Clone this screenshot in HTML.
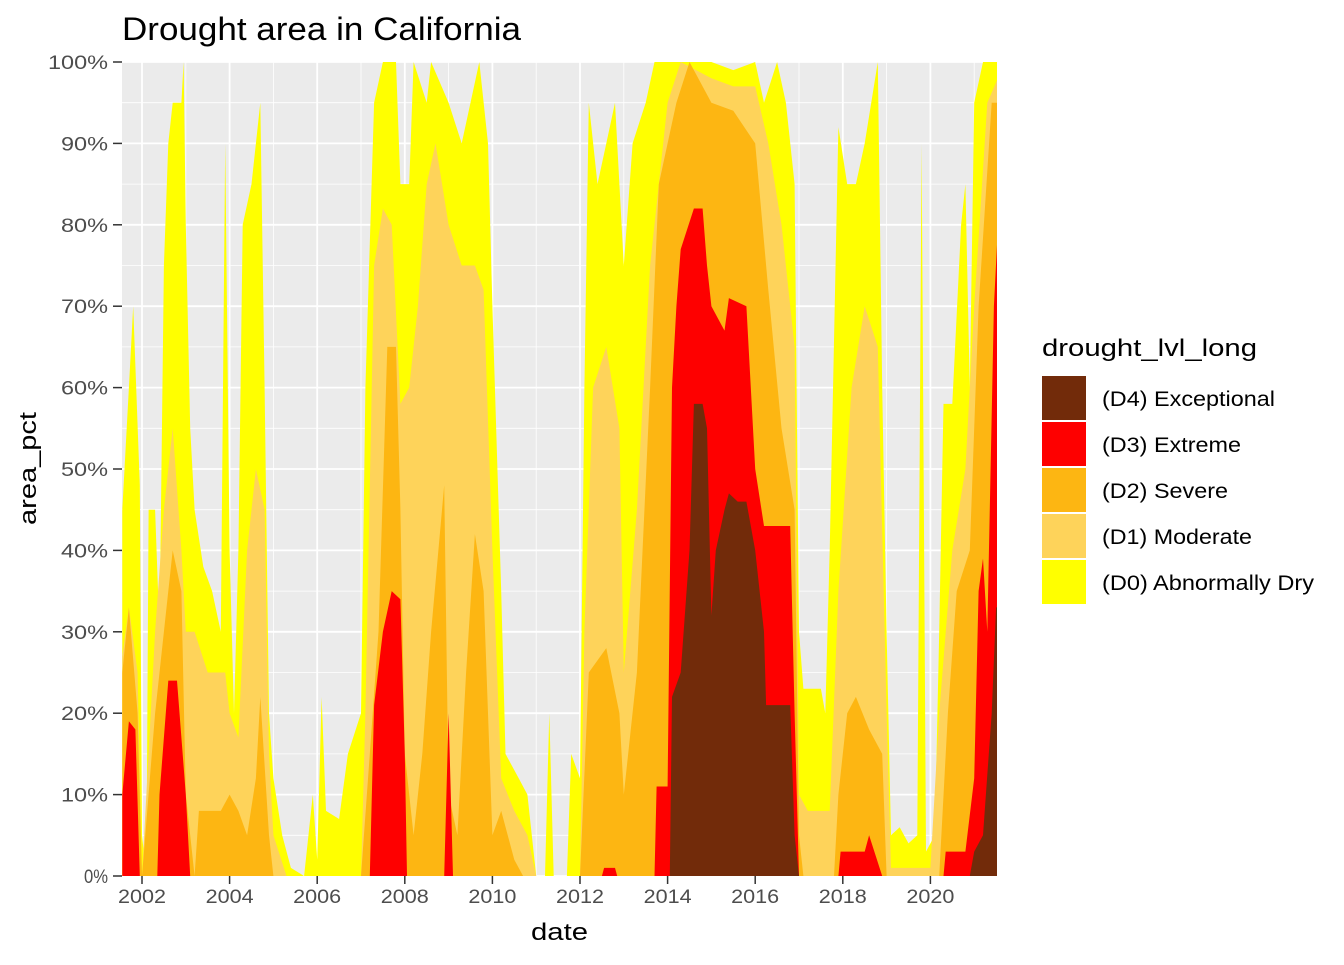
<!DOCTYPE html>
<html><head><meta charset="utf-8"><style>
body{margin:0;background:#fff;font-family:"Liberation Sans",Arial,sans-serif}
svg text{font-family:"Liberation Sans",Arial,sans-serif}
</style></head><body>
<svg id="s" width="1344" height="960" viewBox="0 0 1344 960" xmlns="http://www.w3.org/2000/svg">
<rect width="1344" height="960" fill="#fff"/>
<defs><clipPath id="cp"><rect x="122" y="62" width="875" height="814"/></clipPath></defs>
<rect x="122" y="62" width="875" height="814" fill="#EBEBEB"/>
<g id="grid"></g>
<g id="areas" clip-path="url(#cp)"></g>
<text x="122" y="40" font-size="32" fill="#000" textLength="399" lengthAdjust="spacingAndGlyphs">Drought area in California</text>
<g id="ylab" font-size="19" fill="#4D4D4D" text-anchor="end"></g>
<g id="xlab" font-size="19" fill="#4D4D4D" text-anchor="middle"></g>
<text x="531" y="940" font-size="24" textLength="57" lengthAdjust="spacingAndGlyphs">date</text>
<text transform="translate(36,525) rotate(-90)" font-size="24" textLength="113" lengthAdjust="spacingAndGlyphs">area_pct</text>
<text x="1042" y="356" font-size="24" textLength="215" lengthAdjust="spacingAndGlyphs">drought_lvl_long</text>
<g font-size="21">
<rect x="1042" y="376" width="44" height="44" fill="#722B0A"/><text x="1102" y="406" textLength="173" lengthAdjust="spacingAndGlyphs">(D4) Exceptional</text>
<rect x="1042" y="422" width="44" height="44" fill="#FE0000"/><text x="1102" y="452" textLength="139" lengthAdjust="spacingAndGlyphs">(D3) Extreme</text>
<rect x="1042" y="468" width="44" height="44" fill="#FDB612"/><text x="1102" y="498" textLength="126" lengthAdjust="spacingAndGlyphs">(D2) Severe</text>
<rect x="1042" y="514" width="44" height="44" fill="#FED35A"/><text x="1102" y="544" textLength="150" lengthAdjust="spacingAndGlyphs">(D1) Moderate</text>
<rect x="1042" y="560" width="44" height="44" fill="#FFFF00"/><text x="1102" y="590" textLength="212" lengthAdjust="spacingAndGlyphs">(D0) Abnormally Dry</text>
</g>
</svg>
<script>
const NS="http://www.w3.org/2000/svg";
const X=y=>142+(y-2002)*43.8, Y=p=>876-p*8.14;
const g=document.getElementById('grid');
function ln(x1,y1,x2,y2,w){const l=document.createElementNS(NS,'line');l.setAttribute('x1',x1);l.setAttribute('y1',y1);l.setAttribute('x2',x2);l.setAttribute('y2',y2);l.setAttribute('stroke','#fff');l.setAttribute('stroke-width',w);g.appendChild(l);}
for(let p=0;p<=100;p+=5)ln(122,Y(p),997,Y(p),p%10?0.8:1.8);
for(let y=2002;y<=2021;y++)ln(X(y),62,X(y),876,y%2?0.8:1.8);
const yl=document.getElementById('ylab');
for(let p=0;p<=100;p+=10){const t=document.createElementNS(NS,'text');t.setAttribute('x',108);t.setAttribute('y',Y(p)+7);t.textContent=p+'%';
const w=(p==100?60:p==0?24:47);t.setAttribute('textLength',w);t.setAttribute('lengthAdjust','spacingAndGlyphs');yl.appendChild(t);
const l=document.createElementNS(NS,'line');l.setAttribute('x1',113);l.setAttribute('x2',122);l.setAttribute('y1',Y(p));l.setAttribute('y2',Y(p));l.setAttribute('stroke','#333');l.setAttribute('stroke-width',1.5);yl.appendChild(l);}
const xl=document.getElementById('xlab');
for(let y=2002;y<=2020;y+=2){const t=document.createElementNS(NS,'text');t.setAttribute('x',X(y));t.setAttribute('y',903);t.textContent=y;t.setAttribute('textLength',48);t.setAttribute('lengthAdjust','spacingAndGlyphs');xl.appendChild(t);
const l=document.createElementNS(NS,'line');l.setAttribute('x1',X(y));l.setAttribute('x2',X(y));l.setAttribute('y1',876);l.setAttribute('y2',884);l.setAttribute('stroke','#333');l.setAttribute('stroke-width',1.5);xl.appendChild(l);}
const S={
"#FFFF00":[2001.55,45,2001.7,60,2001.8,70,2001.95,48,2002.0,5,2002.1,0,2002.15,45,2002.3,45,2002.4,30,2002.5,75,2002.6,90,2002.7,95,2002.9,95,2002.95,100,2003.0,80,2003.1,55,2003.2,45,2003.4,38,2003.6,35,2003.8,30,2003.9,90,2004.0,40,2004.1,20,2004.2,40,2004.3,80,2004.5,85,2004.7,95,2004.8,60,2004.9,20,2005.0,12,2005.2,5,2005.4,1,2005.7,0,2005.9,10,2006.0,2,2006.1,22,2006.2,8,2006.5,7,2006.7,15,2007.0,20,2007.1,60,2007.3,95,2007.5,100,2007.8,100,2007.9,85,2008.1,85,2008.2,100,2008.5,95,2008.6,100,2009.0,95,2009.3,90,2009.7,100,2009.9,90,2010.0,70,2010.2,35,2010.3,15,2010.6,12,2010.8,10,2010.9,5,2011.0,0,2011.2,0,2011.3,20,2011.4,0,2011.7,0,2011.8,15,2012.0,12,2012.1,60,2012.2,95,2012.4,85,2012.6,90,2012.8,95,2013.0,75,2013.2,90,2013.5,95,2013.7,100,2014.0,100,2015.0,100,2015.5,99,2016.0,100,2016.2,95,2016.5,100,2016.7,95,2016.9,85,2017.0,30,2017.1,23,2017.5,23,2017.6,20,2017.7,40,2017.9,92,2018.1,85,2018.3,85,2018.5,90,2018.8,100,2018.9,60,2019.0,30,2019.1,5,2019.3,6,2019.5,4,2019.7,5,2019.8,90,2019.9,3,2020.1,5,2020.2,30,2020.3,58,2020.5,58,2020.7,80,2020.8,85,2020.9,60,2021.0,95,2021.2,100,2021.7,100],
"#FED35A":[2001.55,27,2001.7,33,2001.9,25,2002.0,0,2002.3,30,2002.5,45,2002.7,55,2002.9,40,2003.0,30,2003.2,30,2003.5,25,2003.9,25,2004.0,20,2004.2,17,2004.4,40,2004.6,50,2004.8,45,2004.9,15,2005.0,5,2005.3,0,2007.0,0,2007.1,20,2007.3,75,2007.5,82,2007.7,80,2007.9,58,2008.1,60,2008.3,70,2008.5,85,2008.7,90,2009.0,80,2009.3,75,2009.6,75,2009.8,72,2010.0,40,2010.2,12,2010.5,8,2010.8,5,2011.0,0,2012.0,0,2012.1,30,2012.3,60,2012.6,65,2012.9,55,2013.0,25,2013.3,45,2013.6,75,2013.8,85,2014.0,95,2014.3,100,2015.0,98,2015.5,97,2016.0,97,2016.3,90,2016.6,80,2016.9,65,2017.0,10,2017.2,8,2017.7,8,2017.9,35,2018.2,60,2018.5,70,2018.8,65,2019.0,20,2019.1,1,2020.0,1,2020.2,20,2020.5,40,2020.8,50,2021.0,70,2021.3,95,2021.7,100],
"#FDB612":[2001.55,25,2001.7,33,2001.9,20,2002.0,0,2002.3,20,2002.5,30,2002.7,40,2002.9,35,2003.0,10,2003.2,0,2003.3,8,2003.8,8,2004.0,10,2004.2,8,2004.4,5,2004.6,12,2004.7,22,2004.9,5,2005.0,0,2007.0,0,2007.2,15,2007.4,30,2007.6,65,2007.8,65,2007.9,45,2008.0,15,2008.2,5,2008.4,15,2008.6,30,2008.9,48,2009.0,10,2009.2,5,2009.4,25,2009.6,42,2009.8,35,2010.0,5,2010.2,8,2010.5,2,2010.7,0,2012.0,0,2012.2,25,2012.6,28,2012.9,20,2013.0,10,2013.3,25,2013.6,60,2013.8,85,2014.0,90,2014.2,95,2014.5,100,2015.0,95,2015.5,94,2016.0,90,2016.3,72,2016.6,55,2016.9,45,2017.0,5,2017.1,0,2017.8,0,2017.9,10,2018.1,20,2018.3,22,2018.6,18,2018.9,15,2019.0,0,2020.2,0,2020.4,20,2020.6,35,2020.9,40,2021.1,70,2021.4,95,2021.7,95],
"#FE0000":[2001.55,10,2001.7,19,2001.85,18,2001.95,0,2002.35,0,2002.4,10,2002.6,24,2002.8,24,2003.0,10,2003.1,0,2007.2,0,2007.3,21,2007.5,30,2007.7,35,2007.9,34,2008.0,15,2008.05,0,2008.9,0,2009.0,20,2009.1,0,2012.5,0,2012.55,1,2012.8,1,2012.85,0,2013.7,0,2013.75,11,2014.0,11,2014.1,60,2014.2,70,2014.3,77,2014.6,82,2014.8,82,2014.9,75,2015.0,70,2015.3,67,2015.4,71,2015.8,70,2016.0,50,2016.2,43,2016.8,43,2016.9,20,2017.0,0,2017.9,0,2017.95,3,2018.5,3,2018.6,5,2018.9,0,2020.3,0,2020.35,3,2020.8,3,2021.0,12,2021.1,35,2021.2,39,2021.3,30,2021.45,70,2021.6,86,2021.7,86],
"#722B0A":[2014.05,0,2014.1,22,2014.3,25,2014.5,40,2014.6,58,2014.8,58,2014.9,55,2015.0,32,2015.1,40,2015.3,45,2015.4,47,2015.6,46,2015.8,46,2016.0,40,2016.2,30,2016.25,21,2016.8,21,2016.9,5,2017.0,0,2020.9,0,2021.0,3,2021.2,5,2021.4,20,2021.5,33,2021.7,33]
};
const a=document.getElementById('areas');
for(const c in S){const d=S[c];let s='M'+X(d[0])+','+Y(0);
for(let i=0;i<d.length;i+=2)s+=' L'+X(d[i]).toFixed(1)+','+Y(d[i+1]).toFixed(1);
s+=' L'+X(d[d.length-2])+','+Y(0)+'Z';
const p=document.createElementNS(NS,'path');p.setAttribute('d',s);p.setAttribute('fill',c);a.appendChild(p);}
</script>
</body></html>
